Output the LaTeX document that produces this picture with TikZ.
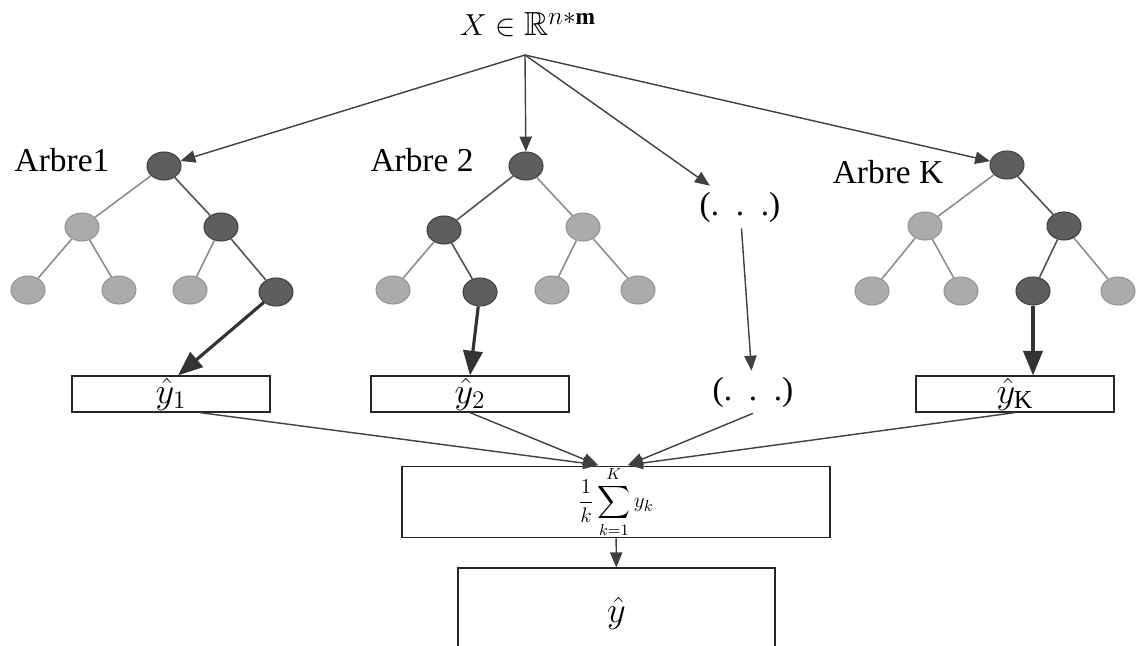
\documentclass[tikz,border=0pt]{standalone}
\usepackage{amsmath}
\usepackage{amssymb}
\usepackage{fontspec}
\setmainfont{Liberation Serif}
\usetikzlibrary{arrows.meta,shapes.geometric}

\tikzset{
  dnode/.style={ellipse,draw=black!75,fill=black!63,line width=0.6pt,
    minimum width=0.68cm,minimum height=0.56cm,inner sep=0pt},
  lnode/.style={ellipse,draw=black!42,fill=black!33,line width=0.6pt,
    minimum width=0.68cm,minimum height=0.56cm,inner sep=0pt},
  tline/.style={draw=black!45,line width=0.9pt},
  tpath/.style={draw=black!68,line width=0.9pt},
  thin arrow/.style={-{Triangle[length=8.5pt,width=7pt]},draw=black!75,
    fill=black!80,line width=0.8pt},
  thick arrow/.style={-{Triangle[length=14pt,width=11pt]},draw=black!80,
    fill=black!80,line width=1.8pt},
  outbox/.style={draw=black!85,rectangle,line width=0.7pt,
    minimum width=3.96cm,minimum height=0.72cm,inner sep=0pt}
}

\begin{document}
\begin{tikzpicture}[x=0.02cm,y=-0.02cm,
  every node/.style={font=\fontsize{19}{22}\selectfont}]
  \useasboundingbox (0,0) rectangle (1147,646);

  \node (xin) at (528,25) {$X \in \mathbb{R}^{n*\mathbf{m}}$};
  \coordinate (top) at (525,55);

  % arbre 1
  \node at (62,160) {Arbre1};
  \node[dnode] (r1) at (164,166) {};
  \node[lnode] (a1) at (82,227) {};
  \node[dnode] (b1) at (221,227) {};
  \node[lnode] (c1) at (28,290) {};
  \node[lnode] (d1) at (119,290) {};
  \node[lnode] (e1) at (190,290) {};
  \node[dnode] (f1) at (276,292) {};
  \draw[tline] (r1) -- (a1) (a1) -- (c1) (a1) -- (d1) (b1) -- (e1);
  \draw[tpath] (r1) -- (b1) -- (f1);

  % arbre 2
  \node at (422,160) {Arbre 2};
  \node[dnode] (r2) at (526,166) {};
  \node[dnode] (a2) at (444,230) {};
  \node[lnode] (b2) at (583,227) {};
  \node[lnode] (c2) at (393,290) {};
  \node[dnode] (d2) at (480,292) {};
  \node[lnode] (e2) at (552,290) {};
  \node[lnode] (f2) at (638,290) {};
  \draw[tline] (r2) -- (b2) (b2) -- (e2) (b2) -- (f2) (a2) -- (c2);
  \draw[tpath] (r2) -- (a2) -- (d2);

  % arbre K
  \node at (888,172) {Arbre K};
  \node[dnode] (rK) at (1007,165) {};
  \node[lnode] (aK) at (925,226) {};
  \node[dnode] (bK) at (1064,226) {};
  \node[lnode] (cK) at (872,291) {};
  \node[lnode] (dK) at (961,291) {};
  \node[dnode] (eK) at (1033,291) {};
  \node[lnode] (fK) at (1118,291) {};
  \draw[tline] (rK) -- (aK) (aK) -- (cK) (aK) -- (dK) (bK) -- (fK);
  \draw[tpath] (rK) -- (bK) -- (eK);

  \node (dots1) at (740,207) {(.\ \ .\ \ .)};
  \node (dots2) at (753,392) {(.\ \ .\ \ .)};

  \draw[thin arrow] (top) -- (r1);
  \draw[thin arrow] (top) -- (r2);
  \draw[thin arrow] (top) -- (dots1);
  \draw[thin arrow] (top) -- (rK);
  \draw[thin arrow] (dots1) -- (dots2);

  % sorties
  \node[outbox,font=\fontsize{21}{24}\selectfont] (y1) at (171,394) {$\hat{y}_1$};
  \node[outbox,font=\fontsize{21}{24}\selectfont] (y2) at (470,394) {$\hat{y}_2$};
  \node[outbox,font=\fontsize{21}{24}\selectfont] (yK) at (1015,394) {$\hat{y}_{\mathrm{K}}$};

  \draw[thick arrow] (f1) -- ([xshift=0.14cm]y1.north);
  \draw[thick arrow] (d2) -- (y2.north);
  \draw[thick arrow] (eK) -- (eK |- yK.north);

  \node[draw=black!85,line width=0.7pt,minimum width=8.56cm,minimum height=1.42cm,
    inner sep=0pt,font=\fontsize{13}{15}\selectfont] (mid) at (616,502)
    {$\displaystyle \frac{1}{k}\sum_{k=1}^{K} y_k$};
  \coordinate (inL) at (598,465);
  \coordinate (inR) at (628,465);
  \draw[thin arrow] ([xshift=0.58cm]y1.south) -- (inL);
  \draw[thin arrow] (y2.south) -- (inL);
  \draw[thin arrow] (dots2.south) -- (inR);
  \draw[thin arrow] (yK.south) -- (inR);

  \node[draw=black!85,line width=0.7pt,minimum width=6.34cm,minimum height=1.8cm,
    inner sep=0pt,font=\fontsize{21}{24}\selectfont] (yhat) at (616.5,613) {$\hat{y}$};
  \draw[thin arrow] (mid) -- (yhat);
\end{tikzpicture}
\end{document}
